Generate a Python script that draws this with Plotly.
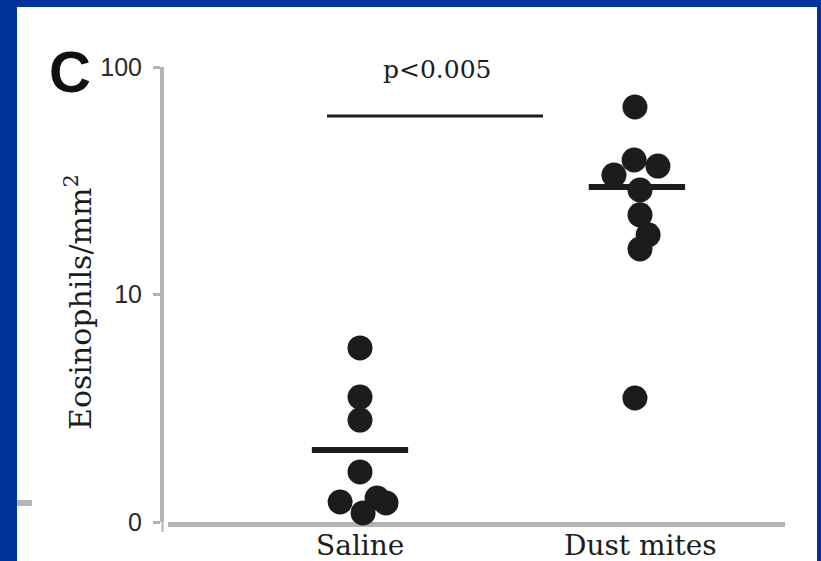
import math
import plotly.graph_objects as go

# ---- data ----
categories = ["Saline", "Dust mites"]
saline_values = [7.65, 5.49, 4.48, 2.20, 0.88, 1.05, 0.84, 0.40]
saline_jitter = [0.0, 0.0, 0.0, 0.0, -0.071, 0.061, 0.093, 0.011]
dust_values = [66.7, 39.0, 36.7, 33.5, 28.8, 22.4, 18.3, 15.85, 5.45]
dust_jitter = [-0.018, -0.021, 0.064, -0.093, 0.0, 0.0, 0.029, 0.0, -0.018]
group_means = [3.16, 29.7]
mean_offsets = [0.0, -0.011]
y_tick_values = [0, 10, 100]
y_tick_labels = ["0", "10", "100"]
p_text = "p<0.005"


def yscale(v):
    """Split axis: linear 0-10, logarithmic 10-100."""
    return v / 10.0 if v <= 10 else 1.0 + math.log10(v / 10.0)


W, H = 821, 561
ML, MR, MT, MB = 162, 36, 67, 39
PW, PH = W - ML - MR, H - MT - MB


def px(x):
    return (x - ML) / PW


def py(y):
    return (H - MB - y) / PH


BLUE = "#00349c"
GRAY = "#b3b3b7"
INK = "#1c1c1c"
SERIF = "DejaVu Serif"
SANS = "Liberation Sans"

fig = go.Figure()

groups = [(saline_values, saline_jitter), (dust_values, dust_jitter)]
for i, (vals, jit) in enumerate(groups):
    fig.add_trace(go.Scatter(
        x=[i + j for j in jit],
        y=[yscale(v) for v in vals],
        mode="markers",
        marker=dict(size=25, color=INK, line=dict(width=0)),
        cliponaxis=False,
        showlegend=False,
        hoverinfo="skip",
    ))

for i, m in enumerate(group_means):
    c = i + mean_offsets[i]
    fig.add_trace(go.Scatter(
        x=[c - 0.172, c + 0.172],
        y=[yscale(m), yscale(m)],
        mode="lines",
        line=dict(color=INK, width=6),
        cliponaxis=False,
        showlegend=False,
        hoverinfo="skip",
    ))

shapes = [
    # white panel
    dict(type="rect", xref="paper", yref="paper",
         x0=px(17), x1=px(817), y0=py(600), y1=py(7),
         fillcolor="white", line=dict(width=0), layer="below"),
    # small gray mark at left edge
    dict(type="line", xref="paper", yref="paper",
         x0=px(17), x1=px(32), y0=py(503), y1=py(503),
         line=dict(color=GRAY, width=6)),
    # significance bracket
    dict(type="line", xref="x", yref="paper",
         x0=(327 - 360) / 280.0, x1=(543 - 360) / 280.0,
         y0=py(116), y1=py(116),
         line=dict(color=INK, width=3)),
    # little extension of y axis below zero
    dict(type="line", xref="paper", yref="paper",
         x0=px(162.5), x1=px(162.5), y0=py(522), y1=py(532),
         line=dict(color=GRAY, width=2)),
]

annotations = [
    dict(text="C", xref="paper", yref="paper", x=px(70), y=py(72),
         xanchor="center", yanchor="middle", showarrow=False,
         font=dict(family=SANS, size=58, color="#111", weight="bold")),
    dict(text=p_text, xref="paper", yref="paper", x=px(437), y=py(70),
         xanchor="center", yanchor="middle", showarrow=False,
         font=dict(family=SERIF, size=25, color=INK)),
    dict(text="Eosinophils/mm<sup>2</sup>", xref="paper", yref="paper",
         x=px(78), y=py(302), xanchor="center", yanchor="middle",
         textangle=-90, showarrow=False,
         font=dict(family=SERIF, size=30, color=INK)),
]
# category labels under the x axis
for i, name in enumerate(categories):
    annotations.append(dict(
        text=name, xref="x", yref="paper", x=i, y=py(545),
        xanchor="center", yanchor="middle", showarrow=False,
        font=dict(family=SERIF, size=28, color=INK)))

fig.update_layout(
    width=W, height=H,
    margin=dict(l=ML, r=MR, t=MT, b=MB, pad=0, autoexpand=False),
    paper_bgcolor=BLUE,
    plot_bgcolor="rgba(0,0,0,0)",
    shapes=shapes,
    annotations=annotations,
    xaxis=dict(
        domain=[6 / PW, 1],
        range=[-192 / 280.0, (617 - 192) / 280.0],
        showticklabels=False,
        showline=True, linecolor=GRAY, linewidth=5,
        ticks="", showgrid=False, zeroline=False,
        automargin=False,
        layer="below traces",
        fixedrange=True,
    ),
    yaxis=dict(
        anchor="free", position=0,
        range=[0, 2],
        tickmode="array",
        tickvals=[yscale(v) for v in y_tick_values],
        ticktext=y_tick_labels,
        showline=True, linecolor=GRAY, linewidth=4,
        ticks="outside", ticklen=7, tickwidth=3, tickcolor=GRAY,
        showgrid=False, zeroline=False,
        tickfont=dict(family=SANS, size=25, color="#2a2a2a"),
        ticklabelstandoff=6,
        automargin=False,
        layer="below traces",
        fixedrange=True,
    ),
)

fig.write_html("out.html")
